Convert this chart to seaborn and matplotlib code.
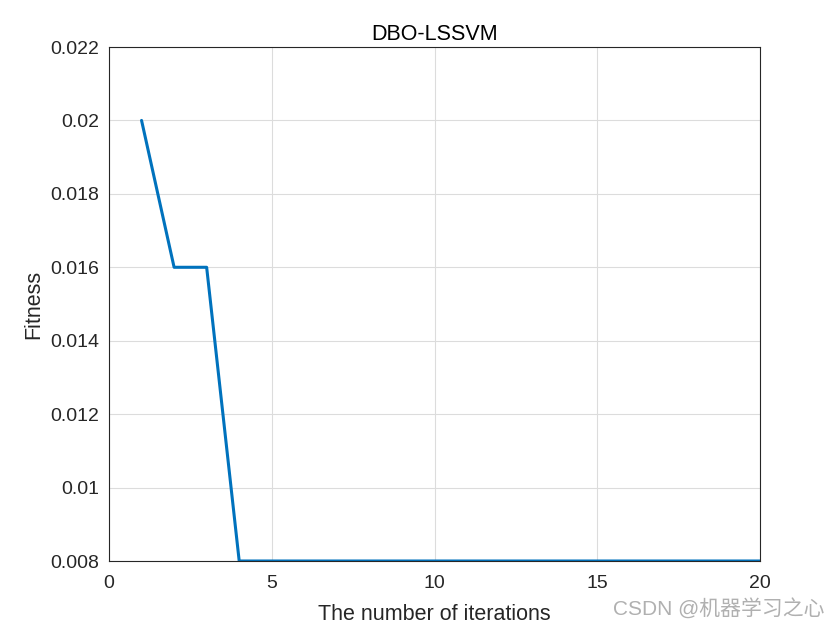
import matplotlib
matplotlib.use("Agg")
import matplotlib.pyplot as plt
import seaborn as sns
import pandas as pd

iterations = list(range(1, 21))
fitness = [0.020, 0.016, 0.016, 0.008, 0.008, 0.008, 0.008, 0.008, 0.008, 0.008,
           0.008, 0.008, 0.008, 0.008, 0.008, 0.008, 0.008, 0.008, 0.008, 0.008]
xticks = [0, 5, 10, 15, 20]
yticks = [0.008, 0.01, 0.012, 0.014, 0.016, 0.018, 0.02, 0.022]
yticklabels = ["0.008", "0.01", "0.012", "0.014", "0.016", "0.018", "0.02", "0.022"]

sns.set_style("white")
plt.rcParams['font.family'] = ['Liberation Sans', 'Noto Sans CJK SC', 'DejaVu Sans']

df = pd.DataFrame({"iter": iterations, "fit": fitness})

fig = plt.figure(figsize=(8.4, 6.3), dpi=100)
ax = fig.add_axes([109/840, 1 - 561/630, (760-109)/840, (561-47)/630])
sns.lineplot(data=df, x="iter", y="fit", ax=ax, color="#0072BD", linewidth=2.2)

ax.set_xlim(0, 20)
ax.set_ylim(0.008, 0.022)
ax.set_xticks(xticks)
ax.set_yticks(yticks)
ax.set_yticklabels(yticklabels)
ax.grid(True, color="#dcdcdc", linewidth=0.8)
ax.set_axisbelow(True)
for s in ax.spines.values():
    s.set_visible(True)
    s.set_color("#262626")
    s.set_linewidth(0.8)
ax.tick_params(direction="in", length=5, colors="#262626", labelsize=14, labelcolor="#262626",
               top=False, right=False, pad=7)
ax.tick_params(axis="x", pad=10)
ax.set_xlabel("The number of iterations", fontsize=15.5, color="#262626", labelpad=9)
ax.set_ylabel("Fitness", fontsize=15.5, color="#262626", labelpad=4)
ax.set_title("DBO-LSSVM", fontsize=15.5, color="#000000", pad=5)

fig.text(0.982, 0.016, "CSDN @机器学习之心", ha="right", va="bottom", fontsize=15,
         color="#b0b0b0")

fig.savefig("out.png", dpi=100, facecolor="white")
